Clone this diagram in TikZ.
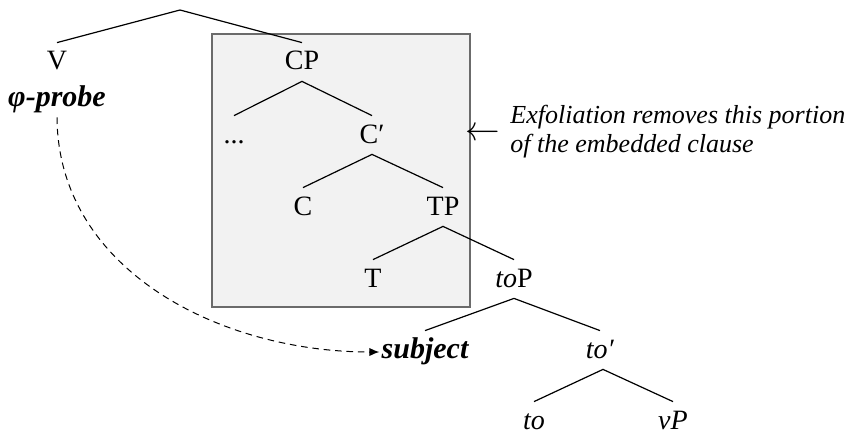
\documentclass[tikz,border=0pt]{standalone}
\usepackage{fontspec}
\setmainfont{Liberation Serif}
\usetikzlibrary{arrows.meta}
\begin{document}
\begin{tikzpicture}[x=0.5pt,y=-0.5pt,
  lbl/.style={anchor=base,inner xsep=1pt,inner ysep=5pt,text height=8.5pt,text depth=0.5pt,
    font=\fontsize{14}{16}\selectfont},
  bi/.style={font=\fontsize{15}{17}\selectfont\bfseries\itshape},
  edge/.style={line width=0.6pt,black},
  boxst/.style={draw=black!58,fill=black!5,line width=0.65pt},
  note/.style={anchor=base west,inner sep=0pt,font=\fontsize{13}{14}\selectfont\itshape},
  dep/.style={line width=0.5pt,dash pattern=on 3.3pt off 2.4pt,-{Latex[length=5pt,width=4.2pt]}}]
\useasboundingbox (0,0) rectangle (850,433);
\draw[boxst] (212,34) rectangle (470,307);
\coordinate (root) at (180,10);
\node[lbl] (V) at (57,70) {V};
\node[lbl,bi] (probe) at (57,106) {φ-probe};
\node[lbl] (CP) at (302,70) {CP};
\node[lbl] (dots) at (234,143) {...};
\node[lbl] (Cbar) at (372,143) {C′};
\node[lbl] (C) at (303,215) {C};
\node[lbl] (TP) at (443,215) {TP};
\node[lbl] (T) at (373,287) {T};
\node[lbl] (toP) at (514,287) {\textit{to}P};
\node[lbl,bi] (subj) at (425,358) {subject};
\node[lbl] (tobar) at (600,358) {\textit{to′}};
\node[lbl] (to) at (534,429) {\textit{to}};
\node[lbl] (vP) at (673,429) {\textit{vP}};
\draw[edge] (V.north) -- (root) -- (CP.north);
\draw[edge] (dots.north) -- (CP.south) -- (Cbar.north);
\draw[edge] (C.north) -- (Cbar.south) -- (TP.north);
\draw[edge] (T.north) -- (TP.south) -- (toP.north);
\draw[edge] (subj.north) -- (toP.south) -- (tobar.north);
\draw[edge] (to.north) -- ([xshift=1.5pt]tobar.south) -- (vP.north);
\draw[dep] (probe.south) .. controls (58,270) and (220,352) .. ([yshift=-1pt]subj.west);
\node[anchor=center,inner sep=0pt,font=\fontsize{17}{17}\selectfont] (arr) at (483,134) {$\leftarrow$};
\node[note] (note1) at (510,124) {Exfoliation removes this portion};
\node[note] (note2) at (510,152) {of the embedded clause};
\end{tikzpicture}
\end{document}
